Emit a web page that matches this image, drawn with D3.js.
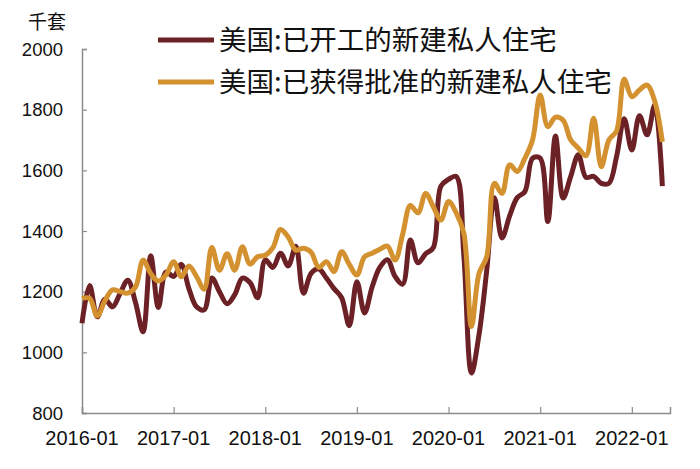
<!DOCTYPE html>
<html>
<head>
<meta charset="utf-8">
<script src="https://cdn.jsdelivr.net/npm/d3@7"></script>
<style>
  body { margin: 0; background: #fff; }
  svg { display: block; }
</style>
</head>
<body>
<svg id="chart"></svg>
<script>
// monthly, 2016-01 .. 2022-05
const startMonth = "2016-01";
const seriesNames = ["美国:已开工的新建私人住宅", "美国:已获得批准的新建私人住宅"];

const starts = [
  1096, 1220, 1117, 1175, 1150, 1195, 1238, 1165, 1068, 1318, 1148, 1265,
  1250, 1290, 1210, 1150, 1140, 1245, 1200, 1160, 1190, 1245, 1230, 1180,
  1305, 1280, 1327, 1285, 1350, 1195, 1260, 1275, 1245, 1210, 1180, 1088,
  1233, 1130, 1216, 1280, 1305, 1250, 1225, 1370, 1295, 1325, 1345, 1548,
  1570, 1580, 1320, 932, 1060, 1270, 1510, 1377, 1450, 1510, 1530, 1640,
  1640, 1431, 1713, 1509, 1580, 1651, 1577, 1580, 1557, 1557, 1645, 1770,
  1667, 1780, 1717, 1815, 1548
];

const permits = [
  1178, 1178, 1120, 1170, 1206, 1200, 1195, 1215, 1304, 1260, 1235, 1255,
  1299, 1249, 1285, 1250, 1208, 1346, 1271, 1325, 1271, 1348, 1291, 1315,
  1320, 1345, 1405, 1380, 1337, 1343, 1330, 1280, 1299, 1266, 1332, 1290,
  1255, 1315, 1327, 1340, 1350, 1304, 1390, 1484, 1460, 1524, 1480, 1436,
  1497, 1460, 1393, 1085, 1261, 1315, 1557, 1524, 1618, 1596, 1640, 1700,
  1848, 1744, 1775, 1765, 1700, 1673, 1648, 1772, 1612, 1700, 1730, 1900,
  1843, 1865, 1881, 1828, 1694
];

const yTicks = [800, 1000, 1200, 1400, 1600, 1800, 2000];
const xTickLabels = ["2016-01", "2017-01", "2018-01", "2019-01", "2020-01", "2021-01", "2022-01"];
const unitLabel = "千套";

const width = 700, height = 469;
const margin = { top: 49, right: 30, bottom: 56, left: 82 };
const colors = ["#6b2125", "#d4912f"];

const svg = d3.select("#chart")
  .attr("width", width)
  .attr("height", height);

// x: month index, axis runs one month past the last point
const x = d3.scaleLinear()
  .domain([0, 77])
  .range([margin.left, width - margin.right]);

const y = d3.scaleLinear()
  .domain([800, 2000])
  .range([height - margin.bottom, margin.top]);

// Y axis (ticks inside)
const yAxis = svg.append("g")
  .attr("transform", `translate(${margin.left},0)`)
  .call(d3.axisRight(y).tickValues(yTicks).tickSize(5).tickFormat(""));
yAxis.select(".domain").attr("stroke", "#8c8c8c").attr("stroke-width", 1.5);
yAxis.selectAll(".tick line").attr("stroke", "#8c8c8c").attr("stroke-width", 1.2);

svg.append("g")
  .selectAll("text")
  .data(yTicks)
  .join("text")
  .attr("x", 63)
  .attr("y", d => y(d))
  .attr("dy", "0.36em")
  .attr("text-anchor", "end")
  .attr("font-family", "'Liberation Sans', Arial, sans-serif")
  .attr("font-size", 18.5)
  .attr("fill", "#111")
  .text(d => d);

// X axis (ticks pointing up)
const xAxis = svg.append("g")
  .attr("transform", `translate(0,${height - margin.bottom})`)
  .call(d3.axisTop(x).tickValues(xTickLabels.map((d, i) => i * 12)).tickSize(6).tickFormat(""));
xAxis.select(".domain").attr("stroke", "#8c8c8c").attr("stroke-width", 1.5);
xAxis.selectAll(".tick line").attr("stroke", "#8c8c8c").attr("stroke-width", 1.2);

svg.append("g")
  .selectAll("text")
  .data(xTickLabels)
  .join("text")
  .attr("x", (d, i) => x(i * 12))
  .attr("y", 445)
  .attr("text-anchor", "middle")
  .attr("font-family", "'Liberation Sans', Arial, sans-serif")
  .attr("font-size", 20)
  .attr("fill", "#111")
  .text(d => d);

// unit label
svg.append("text")
  .attr("x", 47)
  .attr("y", 29)
  .attr("text-anchor", "middle")
  .attr("font-family", "'Noto Sans CJK SC', sans-serif")
  .attr("font-size", 19)
  .attr("fill", "#111")
  .text(unitLabel);

// lines
const line = d3.line()
  .x((d, i) => x(i))
  .y(d => y(d))
  .curve(d3.curveCatmullRom.alpha(0.5));

[starts, permits].forEach((s, k) => {
  svg.append("path")
    .datum(s)
    .attr("fill", "none")
    .attr("stroke", colors[k])
    .attr("stroke-width", 5)
    .attr("stroke-linejoin", "round")
    .attr("d", line);
});

// legend
const legend = svg.append("g");
seriesNames.forEach((name, k) => {
  const ly = 40 + k * 42;
  legend.append("line")
    .attr("x1", 158).attr("x2", 214)
    .attr("y1", ly).attr("y2", ly)
    .attr("stroke", colors[k])
    .attr("stroke-width", 5);
  legend.append("text")
    .attr("x", 219)
    .attr("y", ly)
    .attr("dy", "0.36em")
    .attr("font-family", "'Noto Sans CJK SC', sans-serif")
    .attr("font-size", 27.5)
    .attr("fill", "#111")
    .text(name);
});
</script>
</body>
</html>
